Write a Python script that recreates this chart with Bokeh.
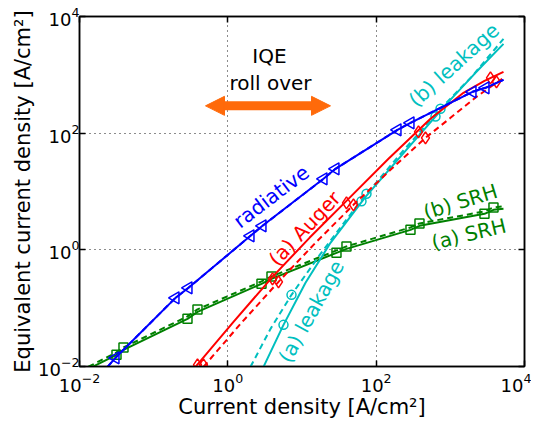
import numpy as np
from bokeh.plotting import figure
from bokeh.models import (LogAxis, FixedTicker, LogTickFormatter, Arrow, NormalHead,
                          ColumnDataSource, Range1d, CustomJSTickFormatter)
from bokeh.core.properties import value
from bokeh.embed import file_html
from bokeh.resources import INLINE

# ---------------- data ----------------
# radiative (a) and (b) overlap
rad_x = [0.02385, 0.03058, 0.1969, 0.2948, 2.021, 2.933, 19.49, 28.28, 193.9, 290.2, 1989, 2978, 5208]
rad_y = [0.00987, 0.01408, 0.1503, 0.2232, 1.738, 2.579, 16.49, 24.47, 114.1, 150.4, 511.3, 598.8, 821]
rad_mx = [0.03058, 0.1969, 0.2948, 2.021, 2.933, 19.49, 28.28, 193.9, 290.2, 1989, 2978]
rad_my = [0.01408, 0.1503, 0.2232, 1.738, 2.579, 16.49, 24.47, 114.1, 150.4, 511.3, 598.8]

# SRH
srh_a_x = [0.01497, 0.03154, 0.03919, 0.2858, 0.3899, 2.844, 3.879, 29.17, 39.79, 290.2, 383.7, 2887, 3817, 5208]
srh_a_y = [0.00987, 0.01585, 0.0193, 0.06566, 0.08652, 0.2613, 0.3183, 0.8884, 1.040, 2.202, 2.579, 4.142, 4.851, 5.045]
srh_b_x = [0.0132, 0.03154, 0.03919, 0.2858, 0.3899, 2.844, 3.879, 29.17, 39.79, 290.2, 383.7, 2887, 3817, 5208]
srh_b_y = [0.0099, 0.01744, 0.02123, 0.0722, 0.0952, 0.2874, 0.3501, 0.977, 1.144, 2.422, 2.837, 4.556, 5.336, 5.55]
srh_a_mx = [0.03154, 0.2858, 2.844, 29.17, 290.2, 2887]
srh_a_my = [0.01585, 0.06566, 0.2613, 0.8884, 2.202, 4.142]
srh_b_mx = [0.03919, 0.3899, 3.879, 39.79, 383.7, 3817]
srh_b_my = [0.02123, 0.0952, 0.3501, 1.144, 2.837, 5.336]

# Auger
aug_a_x = [0.3664, 1.192, 4.000, 12.62, 39.79, 146.6, 540.0, 1504, 2887, 5208]
aug_a_y = [0.00987, 0.0583, 0.3444, 1.606, 6.918, 36.32, 176.1, 491.5, 789.4, 1126]
aug_b_x = [0.4696, 1.482, 4.819, 15.20, 49.46, 156.0, 462.4, 1005, 2252, 5208]
aug_b_y = [0.00987, 0.05386, 0.2828, 1.318, 5.908, 23.52, 83.20, 183.2, 419.8, 888.8]
aug_a_mx = [0.3899, 4.000, 39.79, 372.1, 3477]
aug_a_my = [0.01068, 0.3183, 6.394, 105.4, 888.8]
aug_b_mx = [0.4696, 4.819, 49.46, 462.4, 4190]
aug_b_my = [0.01068, 0.2828, 5.908, 83.2, 759]

# leakage
leak_a_x = [3.026, 5.629, 11.15, 24.22, 71.78, 248.5, 915.5, 2183, 5208]
leak_a_y = [0.00987, 0.05178, 0.2718, 1.318, 8.102, 49.81, 331.3, 1083, 3401]
leak_b_x = [2.021, 3.761, 7.218, 17.76, 57.75, 212.8, 736.6, 1989, 5208]
leak_b_y = [0.00987, 0.0442, 0.1692, 0.854, 6.146, 44.23, 261.4, 961.6, 4143]
leak_a_mx = [5.629, 63.41, 630.6]
leak_a_my = [0.05178, 6.784, 192.9]
leak_b_mx = [7.218, 74.05, 736.6]
leak_b_my = [0.1692, 9.123, 261.4]

tick_values = [0.01, 1, 100, 10000]
grid_values = [1, 100]

# annotation texts
label_text = ["radiative", "(a) Auger", "(a) leakage", "(b) leakage", "(b) SRH", "(a) SRH", "IQE", "roll over"]
label_x = [3.855, 10.87, 13.35, 1113, 1370, 1774, 3.645, 3.761]
label_y = [8.20, 2.337, 0.08756, 1473, 6.705, 1.859, 2118, 729.5]
label_angle = [37.3, 46.5, 61, 42, 17, 13.5, 0, 0]
label_color = ["#0000ff", "#ff0000", "#00bfbf", "#00bfbf", "#008000", "#008000", "black", "black"]

arrow_x = [0.4997, 24.22]
arrow_y = [294.2, 294.2]

BLUE, RED, GREEN, CYAN, ORANGE = "#0000ff", "#ff0000", "#008000", "#00bfbf", "#ff6a0a"
FONT = "DejaVu Sans"

p = figure(x_axis_type="log", y_axis_type="log",
           x_range=Range1d(0.01, 10000), y_range=Range1d(0.01, 10000),
           frame_width=445, frame_height=350,
           min_border_left=79, min_border_right=7, min_border_top=16, min_border_bottom=54,
           output_backend="svg", toolbar_location=None)
p.background_fill_color = "white"
p.border_fill_color = "white"
p.outline_line_color = "black"
p.outline_line_width = 1.5
p.outline_line_alpha = 1

for ax in (p.xaxis[0], p.yaxis[0]):
    ax.ticker = FixedTicker(ticks=tick_values, minor_ticks=[])
    ax.formatter = LogTickFormatter()
    ax.major_tick_in = 6
    ax.major_tick_out = 0
    ax.major_tick_line_width = 1.5
    ax.minor_tick_line_color = None
    ax.axis_line_width = 1.5
    ax.major_label_text_font = FONT
    ax.major_label_text_font_size = "18px"
    ax.major_label_text_color = "black"
    ax.axis_label_text_font = FONT
    ax.axis_label_text_font_size = "21px"
    ax.axis_label_text_font_style = "normal"
    ax.axis_label_text_color = "black"

p.xaxis[0].axis_label = "Current density [A/cm²]"
p.yaxis[0].axis_label = "Equivalent current density [A/cm²]"
p.xaxis[0].major_label_standoff = 6
p.xaxis[0].axis_label_standoff = 0
p.yaxis[0].major_label_standoff = 0
p.yaxis[0].axis_label_standoff = 0

for loc in ("above", "right"):
    ax = LogAxis(ticker=FixedTicker(ticks=tick_values, minor_ticks=[]),
                 formatter=CustomJSTickFormatter(code="return ''"),
                 major_label_text_font_size="2px", major_label_standoff=0,
                 major_tick_in=6, major_tick_out=0, major_tick_line_width=1.5,
                 minor_tick_line_color=None, axis_line_width=1.5)
    p.add_layout(ax, loc)

for g in (p.xgrid[0], p.ygrid[0]):
    g.ticker = FixedTicker(ticks=grid_values, minor_ticks=[])
    g.grid_line_color = "black"
    g.grid_line_dash = "1 4"
    g.grid_line_width = 1
    g.grid_line_alpha = 0.9

DASH = "6 4"
LW = 2

# SRH
p.line(srh_b_x, srh_b_y, line_color=GREEN, line_width=LW, line_dash=DASH)
p.line(srh_a_x, srh_a_y, line_color=GREEN, line_width=LW)
p.scatter(srh_a_mx, srh_a_my, marker="square", size=9, fill_color=None, line_color=GREEN, line_width=1.5)
p.scatter(srh_b_mx, srh_b_my, marker="square", size=9, fill_color=None, line_color=GREEN, line_width=1.5)

# leakage
p.line(leak_b_x, leak_b_y, line_color=CYAN, line_width=LW, line_dash=DASH)
p.line(leak_a_x, leak_a_y, line_color=CYAN, line_width=LW)
p.scatter(leak_a_mx, leak_a_my, marker="circle", size=9, fill_color=None, line_color=CYAN, line_width=1.5)
p.scatter(leak_b_mx, leak_b_my, marker="circle", size=9, fill_color=None, line_color=CYAN, line_width=1.5)

# Auger
p.line(aug_b_x, aug_b_y, line_color=RED, line_width=LW, line_dash=DASH)
p.line(aug_a_x, aug_a_y, line_color=RED, line_width=LW)
p.scatter(aug_a_mx, aug_a_my, marker="diamond", size=12, fill_color=None, line_color=RED, line_width=1.5)
p.scatter(aug_b_mx, aug_b_my, marker="diamond", size=12, fill_color=None, line_color=RED, line_width=1.5)

# radiative
p.line(rad_x, rad_y, line_color=BLUE, line_width=LW, line_dash=DASH)
p.line(rad_x, rad_y, line_color=BLUE, line_width=LW)
p.scatter(rad_mx, rad_my, marker="triangle", angle=np.pi / 2, size=12, fill_color=None, line_color=BLUE, line_width=1.5)

# labels
src = ColumnDataSource(dict(x=label_x, y=label_y, text=label_text, angle=label_angle, color=label_color))
p.text(x="x", y="y", text="text", angle="angle", angle_units="deg", text_color="color", source=src,
       text_font=value(FONT), text_font_size="20px", text_align="center", text_baseline="middle")

# IQE roll over arrow
p.add_layout(Arrow(x_start=arrow_x[0], y_start=arrow_y[0], x_end=arrow_x[1], y_end=arrow_y[1],
                   line_color=ORANGE, line_width=9,
                   start=NormalHead(size=19, fill_color=ORANGE, line_color=ORANGE, line_width=1),
                   end=NormalHead(size=19, fill_color=ORANGE, line_color=ORANGE, line_width=1)))

open("out.html", "w").write(file_html(p, INLINE))
